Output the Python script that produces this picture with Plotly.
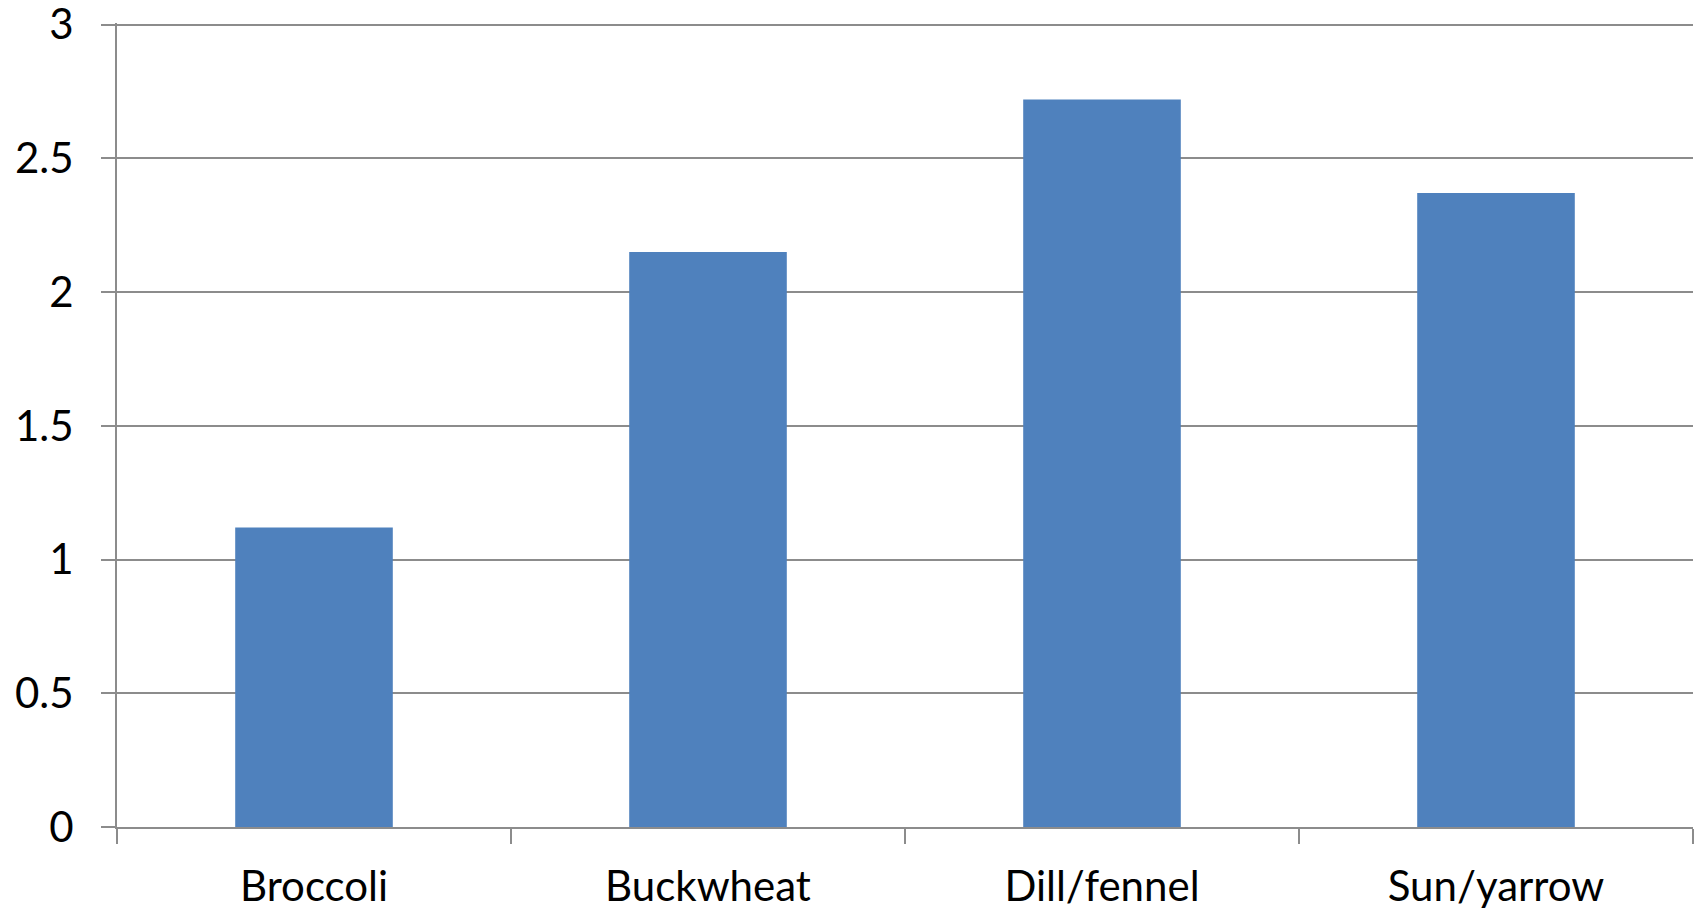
import plotly.graph_objects as go

categories = ["Broccoli", "Buckwheat", "Dill/fennel", "Sun/yarrow"]
values = [1.12, 2.15, 2.72, 2.37]
y_ticks = [0, 0.5, 1, 1.5, 2, 2.5, 3]
y_tick_text = ["0", "0.5", "1", "1.5", "2", "2.5", "3"]

grid = "#8c8c8c"
font = dict(family="Lato, Carlito, Calibri, sans-serif", size=42, color="#000000")

fig = go.Figure(
    go.Bar(
        x=categories,
        y=values,
        marker=dict(color="#4F81BD", line=dict(width=0)),
    )
)

fig.update_layout(
    width=1702,
    height=913,
    margin=dict(l=117, r=9, t=23, b=86, autoexpand=False),
    paper_bgcolor="white",
    plot_bgcolor="white",
    bargap=0.6,
    showlegend=False,
    font=font,
)

fig.update_xaxes(
    showgrid=False,
    showline=True,
    linecolor=grid,
    linewidth=2,
    ticks="outside",
    tickson="boundaries",
    ticklen=15,
    tickwidth=1.5,
    tickcolor=grid,
    ticklabelstandoff=22,
    ticklabeloverflow="allow",
    tickfont=font,
    automargin=False,
)

# range padded slightly above 3 so the top gridline is still drawn
fig.update_yaxes(
    range=[0, 3.006],
    tickvals=y_ticks,
    ticktext=y_tick_text,
    showgrid=True,
    gridcolor=grid,
    gridwidth=1.5,
    zeroline=False,
    showline=True,
    linecolor=grid,
    linewidth=2,
    ticks="outside",
    ticklen=14,
    tickwidth=1.5,
    tickcolor=grid,
    ticklabelstandoff=19,
    ticklabeloverflow="allow",
    tickfont=font,
    automargin=False,
)

fig.write_html("out.html")
